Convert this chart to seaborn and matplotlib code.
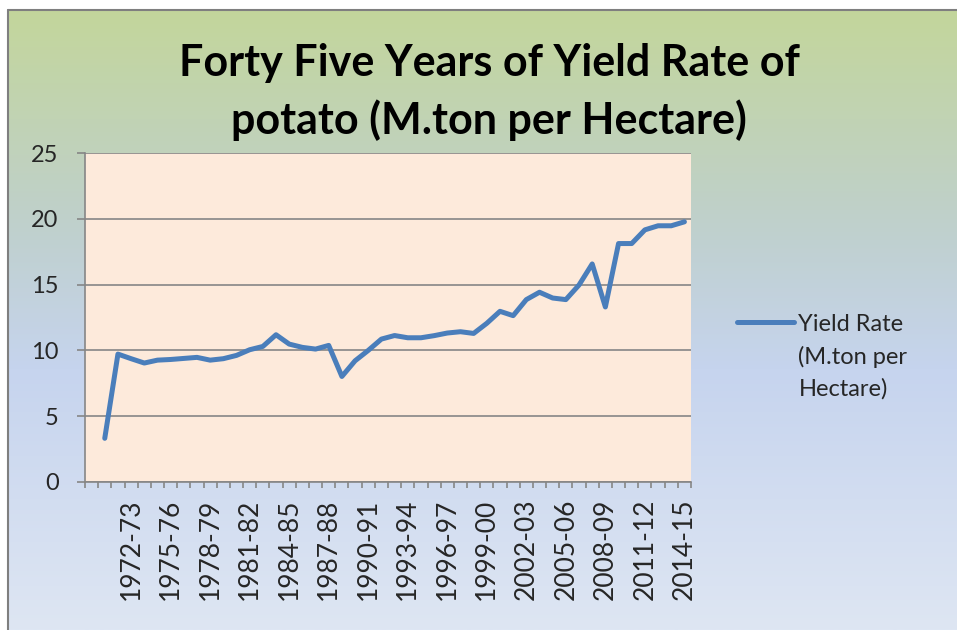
import matplotlib
matplotlib.use("Agg")
import matplotlib.pyplot as plt
import numpy as np
import pandas as pd
import seaborn as sns
from matplotlib.colors import LinearSegmentedColormap
from matplotlib.lines import Line2D

# 数据: 第一个类别为空 (Excel 表中空行), 之后 1970-71 至 2014-15
seasons = [
    "", "1970-71", "1971-72", "1972-73", "1973-74", "1974-75", "1975-76",
    "1976-77", "1977-78", "1978-79", "1979-80", "1980-81", "1981-82",
    "1982-83", "1983-84", "1984-85", "1985-86", "1986-87", "1987-88",
    "1988-89", "1989-90", "1990-91", "1991-92", "1992-93", "1993-94",
    "1994-95", "1995-96", "1996-97", "1997-98", "1998-99", "1999-00",
    "2000-01", "2001-02", "2002-03", "2003-04", "2004-05", "2005-06",
    "2006-07", "2007-08", "2008-09", "2009-10", "2010-11", "2011-12",
    "2012-13", "2013-14", "2014-15",
]
yield_rate = [
    np.nan, 3.32, 9.72, 9.37, 9.04, 9.26, 9.31, 9.39, 9.47, 9.26, 9.37,
    9.62, 10.05, 10.30, 11.19, 10.48, 10.23, 10.10, 10.38, 8.02, 9.21,
    10.00, 10.86, 11.13, 10.96, 10.96, 11.12, 11.32, 11.42, 11.29, 12.06,
    12.97, 12.64, 13.86, 14.42, 13.98, 13.86, 14.97, 16.57, 13.30, 18.12,
    18.12, 19.16, 19.47, 19.47, 19.77,
]
y_ticks = [0, 5, 10, 15, 20, 25]
series_name = "Yield Rate\n(M.ton per\nHectare)"
title = "Forty Five Years of Yield Rate of\npotato (M.ton per Hectare)"

LINE_COLOR = "#4a7ebb"
GRID_COLOR = "#868686"
PLOT_BG = "#fdeadb"

sns.set_theme(style="white")
plt.rcParams["font.family"] = ["Lato", "DejaVu Sans"]

df = pd.DataFrame({"season": seasons, "pos": np.arange(len(seasons)), "yield": yield_rate})

W, H = 957, 630
fig = plt.figure(figsize=(W / 100, H / 100), dpi=100)
fig.patch.set_facecolor("white")

# 背景渐变 (绿 -> 蓝 -> 浅蓝)
x0, y_top = 8 / W, 1 - 10 / H
bg = fig.add_axes([x0, 0, 1 - x0, y_top], zorder=0)
cmap = LinearSegmentedColormap.from_list(
    "bg",
    [(0.0, "#c3d69b"), (0.35, "#bfd0cd"), (0.58, "#c6d4ee"), (1.0, "#dee6f3")],
)
grad = np.linspace(0, 1, 256).reshape(-1, 1)
bg.imshow(grad, aspect="auto", cmap=cmap, extent=[0, 1, 1, 0])
bg.set_xlim(0, 1)
bg.set_ylim(1, 0)
bg.axis("off")
fig.add_artist(Line2D([x0, x0], [0, y_top], color="#7f7f7f", lw=1.5))
fig.add_artist(Line2D([x0, 1], [y_top, y_top], color="#7f7f7f", lw=1.5))

# 绘图区
ax = fig.add_axes([85 / W, 1 - 482 / H, 606 / W, (482 - 153) / H], zorder=1)
ax.set_facecolor(PLOT_BG)
sns.lineplot(data=df, x="pos", y="yield", ax=ax, color=LINE_COLOR, lw=3.6,
             label=series_name, solid_capstyle="round", solid_joinstyle="round")

ax.set_xlim(-0.5, len(seasons) - 0.5)
ax.set_ylim(0, 25)
ax.set_yticks(y_ticks)
ax.yaxis.grid(True, color=GRID_COLOR, lw=1.2)
ax.set_axisbelow(True)

label_pos = list(range(3, len(seasons), 3))
ax.set_xticks(label_pos)
ax.set_xticklabels([seasons[i] for i in label_pos], rotation=90, fontsize=19)
ax.set_xticks(np.arange(-0.5, len(seasons)), minor=True)
ax.tick_params(axis="x", which="major", length=0, pad=12)
ax.tick_params(axis="x", which="minor", direction="out", length=4, width=1.2,
               color=GRID_COLOR, bottom=True)
ax.tick_params(axis="y", direction="out", length=6, width=1.2, color=GRID_COLOR,
               left=True, labelsize=17, pad=13)
ax.set_xlabel("")
ax.set_ylabel("")
for side in ["top", "right"]:
    ax.spines[side].set_visible(False)
for side in ["left", "bottom"]:
    ax.spines[side].set_color(GRID_COLOR)
    ax.spines[side].set_linewidth(1.2)

# 图例: 线段与第一行文字对齐
leg = ax.legend(loc="upper left", bbox_to_anchor=(737 / W, 1 - 314 / H),
                bbox_transform=fig.transFigure, frameon=False, fontsize=17,
                handlelength=2.4, handletextpad=0.2, borderpad=0, borderaxespad=0)
for t in leg.get_texts():
    t.set_linespacing(1.6)
for column in leg._legend_handle_box.get_children():
    for item in column.get_children():
        item.align = "top"

fig.text(489 / W, 1 - 92 / H, title, ha="center", va="center", fontsize=31,
         fontweight="bold", linespacing=1.45, color="black")

fig.savefig("out.png", dpi=100)
